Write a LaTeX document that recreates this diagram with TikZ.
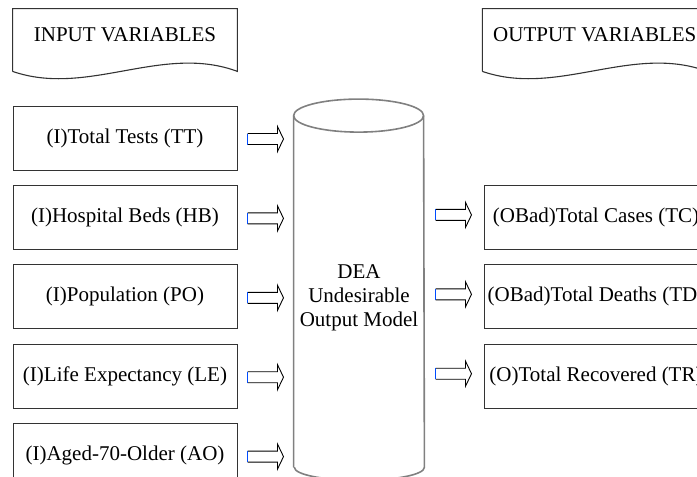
\documentclass[tikz,border=0pt]{standalone}
\usepackage{fontspec}
\setmainfont{Liberation Serif}
\usetikzlibrary{positioning}

\begin{document}
\begin{tikzpicture}[font=\fontsize{10.5}{12}\selectfont,node distance=7.2pt,
  var node/.style={rectangle,draw=black!80,line width=0.5pt,minimum width=112pt,minimum height=32pt,inner sep=1pt},
  head node/.style={rectangle,minimum width=112pt,minimum height=31pt,text depth=5pt,inner sep=0pt},
  tape/.style={draw=black!80,line width=0.55pt},
  cyl/.style={draw=black!50,line width=0.8pt},
  blue tail/.style={draw=blue!70!cyan,line width=0.8pt},
  fat arrow/.pic={
    \draw[black,line width=0.45pt] (0,2.75pt) -- (15pt,2.75pt) -- (15pt,6.25pt) -- (18pt,0)
      -- (15pt,-6.25pt) -- (15pt,-2.75pt) -- (0,-2.75pt);
    \draw[blue tail] (0,2.75pt) -- (0,-2.75pt);
  }]
  \useasboundingbox (0,0) rectangle (348.5pt,-238.5pt);
  \clip (0,0) rectangle (348.5pt,-238.5pt);

  % headers with wavy bottom
  \node[head node] (in_head) at (62.5pt,-20pt) {INPUT VARIABLES};
  \node[head node] (out_head) [right=122.5pt of in_head] {OUTPUT VARIABLES};
  \foreach \h in {in_head,out_head}
    \draw[tape] (\h.south west) -- (\h.north west) -- (\h.north east) -- (\h.south east)
      .. controls ([xshift=-37.5pt,yshift=14pt]\h.south east) and ([xshift=37.5pt,yshift=-13pt]\h.south west) .. (\h.south west);

  % input variables
  \node[var node] (in_1) at (62.5pt,-69pt) {(I)Total Tests (TT)};
  \node[var node] (in_2) [below=of in_1] {(I)Hospital Beds (HB)};
  \node[var node] (in_3) [below=of in_2] {(I)Population (PO)};
  \node[var node] (in_4) [below=of in_3] {(I)Life Expectancy (LE)};
  \node[var node] (in_5) [below=of in_4] {(I)Aged-70-Older (AO)};

  % output variables
  \node[var node] (out_1) [right=123pt of in_2] {(OBad)Total Cases (TC)};
  \node[var node] (out_2) [below=of out_1] {(OBad)Total Deaths (TD)};
  \node[var node] (out_3) [below=of out_2] {(O)Total Recovered (TR)};

  % the model drum
  \node[minimum width=65pt,minimum height=175.5pt,inner sep=0pt] (dea) at (179.5pt,-145.75pt) {};
  \draw[cyl] (dea.south west) -- (dea.north west)
    arc[start angle=180,end angle=0,x radius=32.5pt,y radius=8.25pt] -- (dea.south east)
    arc[start angle=0,end angle=-180,x radius=32.5pt,y radius=6.5pt];
  \draw[cyl] (dea.north west) arc[start angle=180,end angle=360,x radius=32.5pt,y radius=8.25pt];
  \node[align=center] (dea_text) at ([yshift=-3pt]dea.center) {DEA\\Undesirable\\Output Model};

  % block arrows into and out of the model
  \foreach \i in {1,...,5}
    \pic at ([xshift=5pt,yshift=-0.5pt]in_\i.east) {fat arrow};
  \foreach \i in {1,2,3}
    \pic at ([xshift=-24pt,yshift=1.25pt]out_\i.west) {fat arrow};
\end{tikzpicture}
\end{document}
